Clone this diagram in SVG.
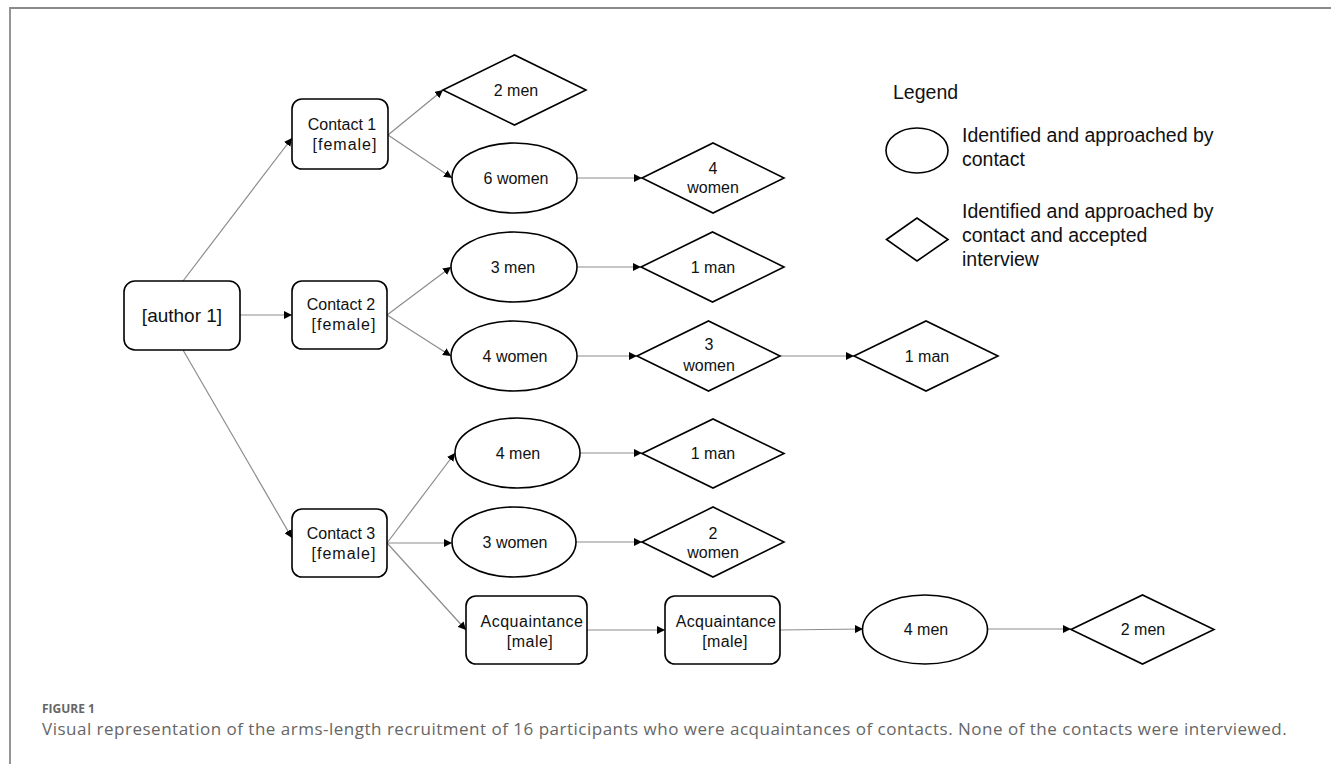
<svg xmlns="http://www.w3.org/2000/svg" width="1331" height="764" viewBox="0 0 1331 764">
<style>
.n{fill:#fff;stroke:#000;stroke-width:1.6}
.t{font-family:"Liberation Sans",Arial,sans-serif;font-size:16px;fill:#111;text-anchor:middle}
.big{font-size:19px}
.lg{font-family:"Liberation Sans",Arial,sans-serif;font-size:19.5px;fill:#111}
.c{stroke:#8c8c8c;stroke-width:1.2;fill:none;marker-end:url(#ah)}
.cap{font-family:"Open Sans","Liberation Sans",sans-serif;fill:#666}
</style>
<defs>
<marker id="ah" viewBox="0 0 10 10" refX="10" refY="5" markerWidth="8" markerHeight="8" markerUnits="userSpaceOnUse" orient="auto">
<path d="M0,0 L10,5 L0,10 z" fill="#000"/>
</marker>
</defs>
<rect width="1331" height="764" fill="#fff"/>
<path d="M10,764 L10,8 L1331,8" fill="none" stroke="#8a8a8a" stroke-width="1.8"/>

<g id="connectors">
<line class="c" x1="183" y1="281" x2="292" y2="138"/>
<line class="c" x1="240" y1="315" x2="292" y2="315"/>
<line class="c" x1="183" y1="350" x2="292" y2="538"/>
<line class="c" x1="388" y1="135" x2="443" y2="90"/>
<line class="c" x1="388" y1="135" x2="452" y2="178"/>
<line class="c" x1="387" y1="315" x2="451" y2="267"/>
<line class="c" x1="387" y1="315" x2="451" y2="356"/>
<line class="c" x1="387" y1="543" x2="455" y2="453"/>
<line class="c" x1="387" y1="543" x2="452" y2="543"/>
<line class="c" x1="387" y1="543" x2="466" y2="630"/>
<line class="c" x1="577" y1="178" x2="642" y2="178"/>
<line class="c" x1="577" y1="267" x2="641" y2="267"/>
<line class="c" x1="577" y1="356" x2="637" y2="356"/>
<line class="c" x1="780" y1="356" x2="854" y2="356"/>
<line class="c" x1="580" y1="453" x2="642" y2="453"/>
<line class="c" x1="576" y1="542" x2="642" y2="542"/>
<line class="c" x1="587" y1="630" x2="665" y2="630"/>
<line class="c" x1="780" y1="630" x2="863" y2="629"/>
<line class="c" x1="988" y1="629" x2="1071" y2="629"/>
</g>

<g id="author1"><rect class="n" x="124" y="281" width="116" height="69" rx="11"/><text class="t big" x="182" y="322">[author 1]</text></g>
<g id="contact1"><rect class="n" x="292" y="99" width="96" height="70" rx="10"/><text class="t" x="342" y="130">Contact 1</text><text class="t" x="345" y="150" letter-spacing="1">[female]</text></g>
<g id="contact2"><rect class="n" x="292" y="281" width="95" height="68" rx="10"/><text class="t" x="341" y="310">Contact 2</text><text class="t" x="344" y="330" letter-spacing="1">[female]</text></g>
<g id="contact3"><rect class="n" x="292" y="509" width="95" height="68" rx="10"/><text class="t" x="341" y="539">Contact 3</text><text class="t" x="344" y="559" letter-spacing="1">[female]</text></g>

<g id="d2men"><polygon class="n" points="443,90 514.5,55 586,90 514.5,125"/><text class="t" x="516" y="96">2 men</text></g>
<g id="e6women"><ellipse class="n" cx="514.5" cy="178" rx="62.5" ry="35"/><text class="t" x="516" y="184">6 women</text></g>
<g id="d4women"><polygon class="n" points="642,178 713,143 784,178 713,213"/><text class="t" x="713" y="174">4</text><text class="t" x="713" y="193">women</text></g>

<g id="e3men"><ellipse class="n" cx="514" cy="267" rx="63" ry="35"/><text class="t" x="513" y="273">3 men</text></g>
<g id="d1man-a"><polygon class="n" points="641,267 712.5,232 784,267 712.5,302"/><text class="t" x="713" y="273">1 man</text></g>

<g id="e4women"><ellipse class="n" cx="514" cy="356" rx="63" ry="35"/><text class="t" x="515" y="362">4 women</text></g>
<g id="d3women"><polygon class="n" points="637,356 708.5,321 780,356 708.5,391"/><text class="t" x="709" y="350">3</text><text class="t" x="709" y="371">women</text></g>
<g id="d1man-b"><polygon class="n" points="854,356 926,321 998,356 926,391"/><text class="t" x="927" y="362">1 man</text></g>

<g id="e4men"><ellipse class="n" cx="517.5" cy="453" rx="62.5" ry="35"/><text class="t" x="518" y="459">4 men</text></g>
<g id="d1man-c"><polygon class="n" points="642,453.5 713,419 784,453.5 713,488"/><text class="t" x="713" y="459">1 man</text></g>

<g id="e3women"><ellipse class="n" cx="514" cy="542" rx="62" ry="35"/><text class="t" x="515" y="548">3 women</text></g>
<g id="d2women"><polygon class="n" points="642,542 713,507 784,542 713,577"/><text class="t" x="713" y="539">2</text><text class="t" x="713" y="558">women</text></g>

<g id="acq1"><rect class="n" x="466" y="596" width="121" height="68" rx="10"/><text class="t" x="532" y="627" letter-spacing="0.5">Acquaintance</text><text class="t" x="530" y="647" letter-spacing="0.5">[male]</text></g>
<g id="acq2"><rect class="n" x="665" y="596" width="115" height="68" rx="10"/><text class="t" x="726" y="627" letter-spacing="0.3">Acquaintance</text><text class="t" x="725" y="647" letter-spacing="0.3">[male]</text></g>
<g id="e4men-b"><ellipse class="n" cx="925" cy="629.5" rx="62.5" ry="34.5"/><text class="t" x="926" y="635">4 men</text></g>
<g id="d2men-b"><polygon class="n" points="1071,629.5 1142.5,595 1214,629.5 1142.5,664"/><text class="t" x="1143" y="635">2 men</text></g>

<g id="legend">
<text class="lg" x="893" y="99" font-size="18.5">Legend</text>
<ellipse class="n" cx="917" cy="150.5" rx="31" ry="22.5"/>
<text class="lg" x="962" y="142">Identified and approached by</text>
<text class="lg" x="962" y="166">contact</text>
<polygon class="n" points="886.5,239.5 917,218 948,239.5 917,261"/>
<text class="lg" x="962" y="218">Identified and approached by</text>
<text class="lg" x="962" y="242">contact and accepted</text>
<text class="lg" x="962" y="266">interview</text>
</g>

<text class="cap" x="42" y="713" font-size="12" font-weight="bold" fill="#555">FIGURE 1</text>
<text class="cap" x="42" y="735" font-size="17" letter-spacing="0.5">Visual representation of the arms-length recruitment of 16 participants who were acquaintances of contacts. None of the contacts were interviewed.</text>
</svg>
